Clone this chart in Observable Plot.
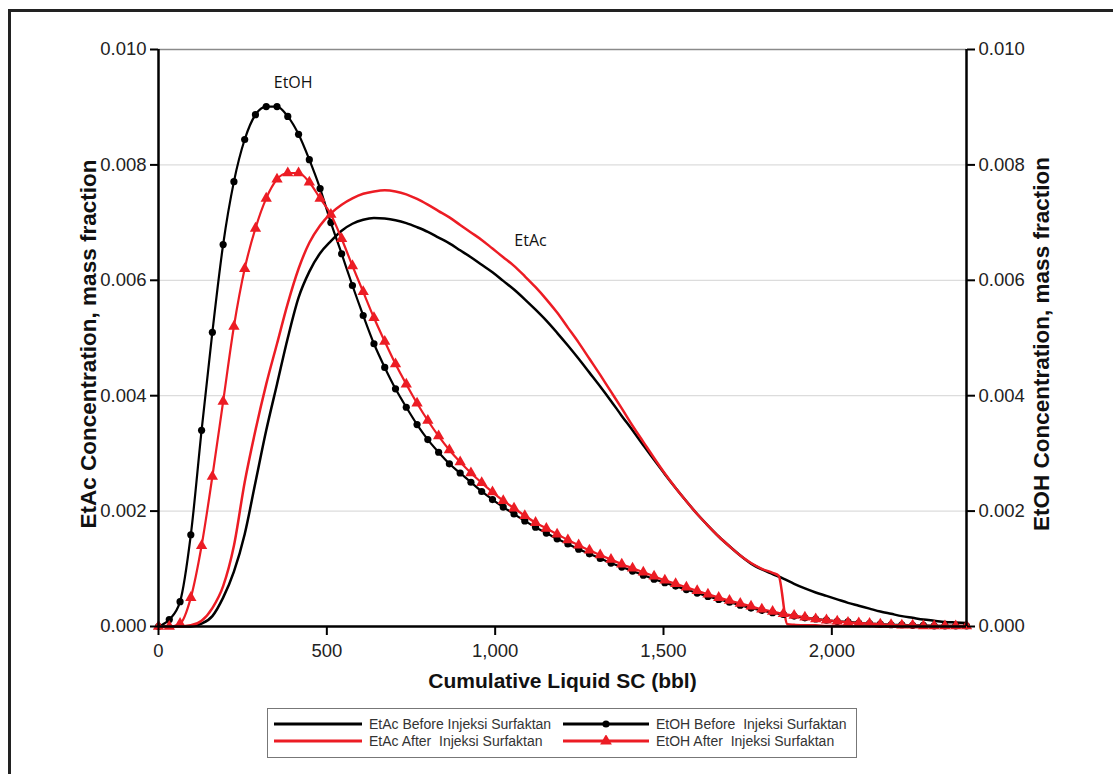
<!DOCTYPE html>
<html>
<head>
<meta charset="utf-8">
<script src="https://cdn.jsdelivr.net/npm/d3@7"></script>
<script src="https://cdn.jsdelivr.net/npm/@observablehq/plot@0.6"></script>
<style>
  html, body { margin: 0; padding: 0; background: #fff; overflow: hidden; }
  #wrap { position: relative; width: 1113px; height: 774px; overflow: hidden; background: #fff; }
  #frame { position: absolute; left: 8px; top: 9px; width: 1200px; height: 900px; border: 3px solid #222; box-sizing: border-box; pointer-events: none; }
  #chart { position: absolute; left: 0; top: 0; }
  #legend { position: absolute; left: 267px; top: 708px; width: 590px; height: 50px; border: 1.5px solid #777; box-sizing: border-box; background: #fff;
            font-family: "Liberation Sans", Arial, sans-serif; font-size: 14px; color: #333; }
  .item { position: absolute; white-space: pre; line-height: 16px; }
  .sw { position: absolute; }
</style>
</head>
<body>
<div id="wrap">
  <div id="chart"></div>
  <div id="frame"></div>
  <div id="legend"></div>
</div>
<script>
// Cumulative liquid (bbl) sample grid
const cumLiquid = [0,32,64,96,128,160,192,224,256,288,320,352,384,416,448,480,512,544,576,608,640,672,704,736,768,800,832,864,896,928,960,992,1024,1056,1088,1120,1152,1184,1216,1248,1280,1312,1344,1376,1408,1440,1472,1504,1536,1568,1600,1632,1664,1696,1728,1760,1792,1824,1856,1888,1920,1952,1984,2016,2048,2080,2112,2144,2176,2208,2240,2272,2304,2336,2368,2400];

// EtAc Before Injeksi Surfaktan (mass fraction)
const etacBefore = [0,0,0,0,0.00005,0.00018,0.0005,0.00095,0.0016,0.0025,0.0034,0.0042,0.0050,0.0057,0.00615,0.00647,0.00668,0.00686,0.00698,0.00705,0.00708,0.00707,0.00704,0.00699,0.00692,0.00684,0.00674,0.00664,0.00652,0.0064,0.00627,0.00614,0.00599,0.00584,0.00567,0.00549,0.0053,0.00509,0.00487,0.00464,0.0044,0.00416,0.00391,0.00365,0.0034,0.00314,0.00289,0.00264,0.0024,0.00217,0.00195,0.00175,0.00156,0.00139,0.00123,0.00109,0.00099,0.00091,0.00083,0.00074,0.00066,0.00059,0.00053,0.00047,0.00041,0.00036,0.00031,0.00026,0.00022,0.00018,0.00015,0.00012,0.0001,0.00008,0.00007,0.00006];

// EtAc After Injeksi Surfaktan (own x samples, includes the drop near 1,850 bbl)
const etacAfterX = [0,32,64,96,128,160,192,224,256,288,320,352,384,416,448,480,512,544,576,608,640,672,704,736,768,800,832,864,896,928,960,992,1024,1056,1088,1120,1152,1184,1216,1248,1280,1312,1344,1376,1408,1440,1472,1504,1536,1568,1600,1632,1664,1696,1728,1760,1792,1824,1842,1868,1888,1920,1952,1984,2016,2048,2080,2112,2144,2176,2208,2240,2272,2304,2336,2368,2400];
const etacAfter = [0,0,0,0.00002,0.0001,0.00032,0.0007,0.0014,0.0025,0.0034,0.0042,0.0049,0.0056,0.0062,0.00665,0.00695,0.00716,0.00731,0.00742,0.0075,0.00754,0.00756,0.00754,0.00749,0.00741,0.00731,0.0072,0.00709,0.00696,0.00683,0.0067,0.00655,0.0064,0.00625,0.00607,0.00588,0.00567,0.00544,0.00518,0.00492,0.00464,0.00436,0.00407,0.00378,0.00348,0.0032,0.00292,0.00265,0.0024,0.00217,0.00195,0.00175,0.00156,0.00139,0.00123,0.0011,0.001,0.00093,0.00088,0.00004,0.00003,0.00002,0.00002,0.00001,0.00001,0.00001,0.00001,0.00001,0,0,0,0,0,0,0,0,0];

// EtOH Before Injeksi Surfaktan (mass fraction)
const etohBefore = [0,0.00012,0.00043,0.00159,0.0034,0.0051,0.00662,0.00771,0.00844,0.00887,0.00901,0.00901,0.00884,0.00853,0.00809,0.00759,0.007,0.00646,0.00591,0.00539,0.0049,0.00449,0.00412,0.0038,0.0035,0.00324,0.00302,0.00282,0.00266,0.0025,0.00234,0.0022,0.00207,0.00195,0.00183,0.00172,0.00162,0.00152,0.00143,0.00134,0.00126,0.00118,0.0011,0.00103,0.00096,0.00089,0.00082,0.00076,0.0007,0.00064,0.00058,0.00052,0.00047,0.00042,0.00037,0.00032,0.00028,0.00024,0.00021,0.00018,0.00015,0.00013,0.00011,0.00009,0.00008,0.00006,0.00005,0.00004,0.00003,0.00003,0.00002,0.00002,0.00001,0.00001,0.00001,0.00001];

// EtOH After Injeksi Surfaktan (mass fraction)
const etohAfter = [0,0,0.00005,0.0005,0.0014,0.0026,0.0039,0.0052,0.0062,0.0069,0.00742,0.00775,0.00786,0.00786,0.0077,0.00742,0.00714,0.00672,0.00625,0.0058,0.00535,0.00494,0.00455,0.0042,0.00387,0.00357,0.0033,0.00306,0.00285,0.00266,0.00249,0.00233,0.00218,0.00205,0.00192,0.0018,0.0017,0.0016,0.0015,0.00141,0.00132,0.00124,0.00116,0.00108,0.00101,0.00094,0.00087,0.0008,0.00074,0.00068,0.00062,0.00056,0.0005,0.00045,0.0004,0.00035,0.0003,0.00026,0.00022,0.00019,0.00016,0.00013,0.00011,0.00009,0.00007,0.00006,0.00005,0.00004,0.00003,0.00002,0.00002,0.00001,0.00001,0.00001,0.00001,0.00001];

// Tick values
const xTicks = [0, 500, 1000, 1500, 2000];
const yTicks = [0, 0.002, 0.004, 0.006, 0.008, 0.010];
const gridTicks = [0.002, 0.004, 0.006, 0.008];

// Annotations
const noteLabels = ["EtOH", "EtAc"];
const noteX = [400, 1105];
const noteY = [0.00934, 0.0066];

// Legend
const legendLabels = ["EtAc Before Injeksi Surfaktan", "EtOH Before  Injeksi Surfaktan", "EtAc After  Injeksi Surfaktan", "EtOH After  Injeksi Surfaktan"];

const RED = "#ec1c24";
const BLACK = "#000";

const mk = (xs, ys) => xs.map((x, i) => ({x, y: ys[i]}));
const dEtacB = mk(cumLiquid, etacBefore);
const dEtacA = mk(etacAfterX, etacAfter);
const dEtohB = mk(cumLiquid, etohBefore);
const dEtohA = mk(cumLiquid, etohAfter);
const notes = noteLabels.map((t, i) => ({t, x: noteX[i], y: noteY[i]}));

const axisFont = {fontSize: 18.5, fontFamily: "Liberation Sans, Arial, sans-serif"};

const chart = Plot.plot({
  width: 1113,
  height: 774,
  marginLeft: 158,
  marginRight: 147,
  marginTop: 49,
  marginBottom: 148,
  x: {domain: [0, 2400]},
  y: {domain: [0, 0.010]},
  style: {background: "transparent", fontFamily: "Liberation Sans, Arial, sans-serif", fontSize: "18px", color: "#222"},
  marks: [
    Plot.ruleY(gridTicks, {stroke: "#dcdcdc", strokeWidth: 1.2}),
    Plot.ruleY([0.010], {stroke: "#8a8a8a", strokeWidth: 1.6}),
    Plot.line(dEtacB, {x: "x", y: "y", stroke: BLACK, strokeWidth: 2.5, curve: "monotone-x"}),
    Plot.line(dEtacA, {x: "x", y: "y", stroke: RED, strokeWidth: 2.5, curve: "monotone-x"}),
    Plot.line(dEtohB, {x: "x", y: "y", stroke: BLACK, strokeWidth: 2.2, curve: "monotone-x"}),
    Plot.dot(dEtohB, {x: "x", y: "y", r: 3.6, fill: BLACK, stroke: "none"}),
    Plot.line(dEtohA, {x: "x", y: "y", stroke: RED, strokeWidth: 2.2, curve: "monotone-x"}),
    Plot.dot(dEtohA, {x: "x", y: "y", r: 4.2, symbol: "triangle", fill: RED, stroke: "none"}),
    Plot.text(notes, {x: "x", y: "y", text: "t", fontFamily: "Open Sans, Noto Sans, sans-serif", fontSize: 16, fill: "#111", lineAnchor: "bottom"}),
    Plot.axisX({ticks: xTicks, tickFormat: d3.format(","), tickSize: 9, tickPadding: 8, stroke: BLACK, strokeWidth: 2, fill: "#222", label: null, ...axisFont}),
    Plot.axisY({anchor: "left", ticks: yTicks, tickFormat: d3.format(".3f"), tickSize: 8, tickPadding: 4, stroke: BLACK, strokeWidth: 2, fill: "#222", label: null, ...axisFont}),
    Plot.axisY({anchor: "right", ticks: yTicks, tickFormat: d3.format(".3f"), tickSize: 8, tickPadding: 4, stroke: BLACK, strokeWidth: 2, fill: "#222", label: null, ...axisFont}),
    Plot.ruleX([0], {stroke: BLACK, strokeWidth: 2.5}),
    Plot.ruleX([2400], {stroke: BLACK, strokeWidth: 2.5}),
    Plot.ruleY([0], {stroke: BLACK, strokeWidth: 2.5}),
    Plot.text(["EtAc Concentration, mass fraction"], {frameAnchor: "left", textAnchor: "middle", text: d => d, rotate: -90, dx: -70, dy: 6, fontSize: 22.5, fontWeight: "bold", fill: "#111"}),
    Plot.text(["EtOH Concentration, mass fraction"], {frameAnchor: "right", textAnchor: "middle", text: d => d, rotate: -90, dx: 75, dy: 6, fontSize: 22.5, fontWeight: "bold", fill: "#111"}),
    Plot.text(["Cumulative Liquid SC (bbl)"], {frameAnchor: "bottom", text: d => d, dy: 61, fontSize: 21, fontWeight: "bold", fill: "#111"})
  ]
});
document.getElementById("chart").appendChild(chart);

// Legend (HTML)
const legend = document.getElementById("legend");
const rows = [16, 33.5];
const cols = [{lineX: 6, lineW: 88, textX: 101}, {lineX: 295, lineW: 86, textX: 388}];
const specs = [
  {color: BLACK, marker: null},
  {color: BLACK, marker: "circle"},
  {color: RED, marker: null},
  {color: RED, marker: "triangle"}
];
legendLabels.forEach((lab, i) => {
  const r = Math.floor(i / 2), c = i % 2;
  const col = cols[c], yc = rows[r];
  const s = specs[i];
  const svgNS = "http://www.w3.org/2000/svg";
  const svg = document.createElementNS(svgNS, "svg");
  svg.setAttribute("class", "sw");
  svg.setAttribute("width", col.lineW);
  svg.setAttribute("height", 12);
  svg.style.left = col.lineX + "px";
  svg.style.top = (yc - 6 - 1.5) + "px";
  const ln = document.createElementNS(svgNS, "line");
  ln.setAttribute("x1", 0); ln.setAttribute("x2", col.lineW);
  ln.setAttribute("y1", 6); ln.setAttribute("y2", 6);
  ln.setAttribute("stroke", s.color); ln.setAttribute("stroke-width", 3);
  svg.appendChild(ln);
  const mx = col.lineW / 2;
  if (s.marker === "circle") {
    const ci = document.createElementNS(svgNS, "circle");
    ci.setAttribute("cx", mx); ci.setAttribute("cy", 6); ci.setAttribute("r", 3.6);
    ci.setAttribute("fill", s.color);
    svg.appendChild(ci);
  } else if (s.marker === "triangle") {
    const p = document.createElementNS(svgNS, "path");
    p.setAttribute("d", d3.symbol(d3.symbolTriangle, 60)());
    p.setAttribute("transform", `translate(${mx},6)`);
    p.setAttribute("fill", s.color);
    svg.appendChild(p);
  }
  legend.appendChild(svg);
  const t = document.createElement("div");
  t.className = "item";
  t.textContent = lab;
  t.style.left = col.textX + "px";
  t.style.top = (yc - 8 - 1.5) + "px";
  legend.appendChild(t);
});
</script>
</body>
</html>
